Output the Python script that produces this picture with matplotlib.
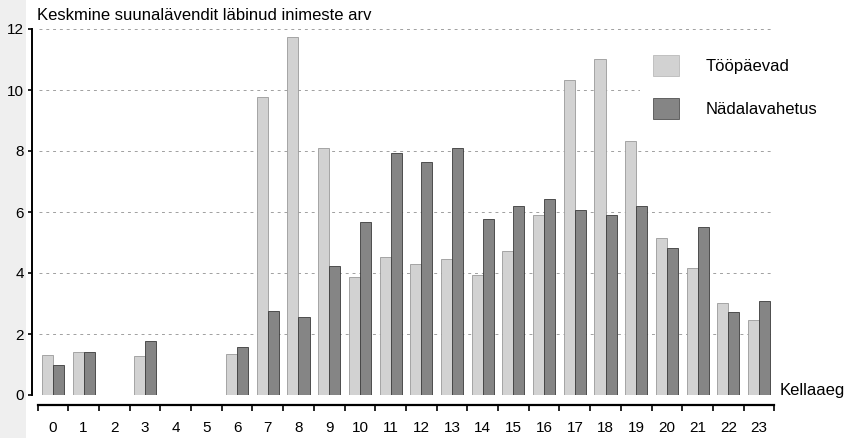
import numpy as np
import matplotlib
matplotlib.use("Agg")
import matplotlib.pyplot as plt
from matplotlib.patches import Patch, Rectangle

plt.rcParams['font.family'] = ['Liberation Sans', 'DejaVu Sans']

# Data
hours = list(range(24))
workdays = [1.31, 1.40, 0, 1.29, 0, 0, 1.34, 9.76, 11.75, 8.09, 3.88, 4.51,
            4.30, 4.46, 3.93, 4.73, 5.90, 10.33, 11.02, 8.33, 5.14, 4.15, 3.01, 2.46]
weekend = [0.98, 1.40, 0, 1.78, 0, 0, 1.58, 2.74, 2.57, 4.24, 5.66, 7.92,
           7.65, 8.09, 5.76, 6.20, 6.42, 6.07, 5.91, 6.20, 4.83, 5.50, 2.73, 3.08]
yticks = [0, 2, 4, 6, 8, 10, 12]
series_names = ['Tööpäevad', 'Nädalavahetus']
title = 'Keskmine suunalävendit läbinud inimeste arv'
xlabel = 'Kellaaeg'

light = '#d2d2d2'
dark = '#858585'

W, H = 849, 438
fig = plt.figure(figsize=(W / 100, H / 100), dpi=100)
# pale strip along the left edge, kept behind everything
fig.patches.append(Rectangle((0, 0), 26 / W, 1, transform=fig.transFigure,
                             facecolor='#efefef', edgecolor='none', zorder=-10))
ax = fig.add_axes([32 / W, (H - 395) / H, 743 / W, 366 / H])
ax.patch.set_alpha(0)

x = np.arange(len(hours))
bw = 0.36
ax.hlines(yticks, -0.45, 23.5, colors='#a0a0a0', linestyles=(0, (3, 4)),
          linewidth=0.7, zorder=0)
ax.bar(x - bw / 2, workdays, bw, color=light, edgecolor='#9a9a9a', linewidth=0.6, zorder=2)
ax.bar(x + bw / 2, weekend, bw, color=dark, edgecolor='#3a3a3a', linewidth=0.6, zorder=2)

ax.set_xlim(-0.68, 23.52)
ax.set_ylim(0, 12)

for s in ['top', 'right']:
    ax.spines[s].set_visible(False)
ax.spines['left'].set_linewidth(1.4)
ax.spines['left'].set_bounds(0, 12)
ax.spines['bottom'].set_position(('outward', 7.2))
ax.spines['bottom'].set_bounds(-0.5, 23.5)
ax.spines['bottom'].set_linewidth(1.6)

ax.set_yticks(yticks)
ax.tick_params(axis='y', length=3, width=1.2, pad=3, labelsize=11)
ax.set_xticks(x)
ax.set_xticklabels([str(h) for h in hours])
ax.set_xticks(np.arange(-0.5, 24, 1), minor=True)
ax.tick_params(axis='x', which='major', length=0, pad=11.5, labelsize=11)
ax.tick_params(axis='x', which='minor', length=4, width=1.2)

fig.text(37 / W, 1 - 15.5 / H, title, fontsize=12, va='center', ha='left')
fig.text(780 / W, 1 - 390 / H, xlabel, fontsize=12, va='center', ha='left')

handles = [Patch(facecolor=light, edgecolor='#b0b0b0', linewidth=0.5),
           Patch(facecolor=dark, edgecolor='#3a3a3a', linewidth=0.5)]
fig.legend(handles, series_names, loc='upper left',
           bbox_to_anchor=(640 / W, 1 - 42 / H), fontsize=12,
           handlelength=1.56, handleheight=1.56, handletextpad=1.56,
           labelspacing=1.3, borderpad=0.8, borderaxespad=0,
           frameon=True, facecolor='white', edgecolor='none', framealpha=1,
           fancybox=False)

fig.savefig('out.png', dpi=100)
